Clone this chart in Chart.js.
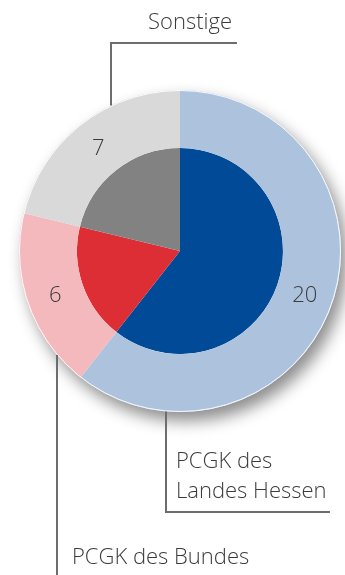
<!DOCTYPE html>
<html>
<head>
<meta charset="utf-8">
<script src="https://cdn.jsdelivr.net/npm/chart.js@4/dist/chart.umd.min.js"></script>
<style>
    html, body { margin: 0; padding: 0; background: #fff; }
    #wrap { width: 345px; height: 575px; position: relative; }
</style>
</head>
<body>
<div id="wrap"><canvas id="chart"></canvas></div>
<script>
const categories = ['PCGK des Landes Hessen', 'PCGK des Bundes', 'Sonstige'];
const values = [20, 6, 7];
const ringColors = ['#adc3dd', '#f4b9bc', '#d9d9d9'];
const pieColors = [['#004a97', '#003a7a'], ['#dd2e36', '#b0222a'], ['#828282', '#686868']];

const FONT = '300 22px "Open Sans", Lato, sans-serif';
const TEXT = '#3b3b3b';
const LINE = '#6d6d6d';

function pieFill(ctx) {
    const chart = ctx.chart;
    const c = pieColors[ctx.dataIndex];
    const el = chart.getDatasetMeta(1).data[ctx.dataIndex];
    if (!chart.chartArea || !el || !el.outerRadius) return c[0];
    const r = el.outerRadius;
    const g = chart.ctx.createRadialGradient(el.x, el.y, 0, el.x, el.y, r);
    g.addColorStop(0, c[0]);
    g.addColorStop(0.82, c[0]);
    g.addColorStop(0.9, ctx.dataIndex === 2 ? '#8c8c8c' : c[0]);
    g.addColorStop(1, c[1]);
    return g;
}

const extras = {
    id: 'extras',
    beforeDatasetsDraw(chart) {
        const el = chart.getDatasetMeta(0).data[0];
        if (!el) return;
        const ctx = chart.ctx;
        ctx.save();
        ctx.shadowColor = 'rgba(0,0,0,0.45)';
        ctx.shadowBlur = 16;
        ctx.shadowOffsetX = 6;
        ctx.shadowOffsetY = 9;
        ctx.fillStyle = '#ffffff';
        ctx.beginPath();
        ctx.arc(el.x, el.y, el.outerRadius, 0, Math.PI * 2);
        ctx.fill();
        ctx.restore();
    },
    afterDatasetsDraw(chart) {
        const ctx = chart.ctx;
        const meta = chart.getDatasetMeta(0);
        const el0 = meta.data[0];
        const cx = el0.x, cy = el0.y, R = el0.outerRadius;

        // thin white rim
        ctx.save();
        ctx.strokeStyle = 'rgba(255,255,255,0.9)';
        ctx.lineWidth = 1;
        ctx.beginPath();
        ctx.arc(cx, cy, R - 0.5, 0, Math.PI * 2);
        ctx.stroke();

        // values on the outer ring
        ctx.font = FONT;
        ctx.fillStyle = TEXT;
        ctx.textAlign = 'center';
        ctx.textBaseline = 'alphabetic';
        meta.data.forEach((arc, i) => {
            const p = arc.tooltipPosition();
            ctx.fillText(String(values[i]), p.x, p.y + 8);
        });

        // leader lines
        ctx.strokeStyle = LINE;
        ctx.lineWidth = 2;
        const edge = (dx, sign) => cy + sign * Math.sqrt(R * R - dx * dx);

        // Sonstige
        let x = cx - 69;
        ctx.beginPath();
        ctx.moveTo(x, edge(69, -1));
        ctx.lineTo(x, 43);
        ctx.lineTo(237, 43);
        ctx.stroke();
        ctx.fillText(categories[2], 190, 29);

        // Landes Hessen
        x = cx - 14;
        ctx.beginPath();
        ctx.moveTo(x, edge(14, 1));
        ctx.lineTo(x, 512);
        ctx.lineTo(330, 512);
        ctx.stroke();
        ctx.textAlign = 'left';
        ctx.fillText('PCGK des', 176, 468);
        ctx.fillText('Landes Hessen', 176, 498);

        // Bundes
        x = cx - 123;
        ctx.beginPath();
        ctx.moveTo(x, edge(123, 1));
        ctx.lineTo(x, 580);
        ctx.stroke();
        ctx.fillText(categories[1], 72, 564);
        ctx.restore();
    }
};

new Chart(document.getElementById('chart'), {
    type: 'pie',
    data: {
        labels: categories,
        datasets: [
            { data: values, backgroundColor: ringColors, borderWidth: 0, weight: 58 },
            { data: values, backgroundColor: pieFill, borderWidth: 0, weight: 103 }
        ]
    },
    options: {
        responsive: true,
        maintainAspectRatio: false,
        animation: false,
        layout: { padding: { left: 19, right: 4, top: 90, bottom: 163 } },
        plugins: { legend: { display: false }, tooltip: { enabled: false } }
    },
    plugins: [extras]
});
</script>
</body>
</html>
